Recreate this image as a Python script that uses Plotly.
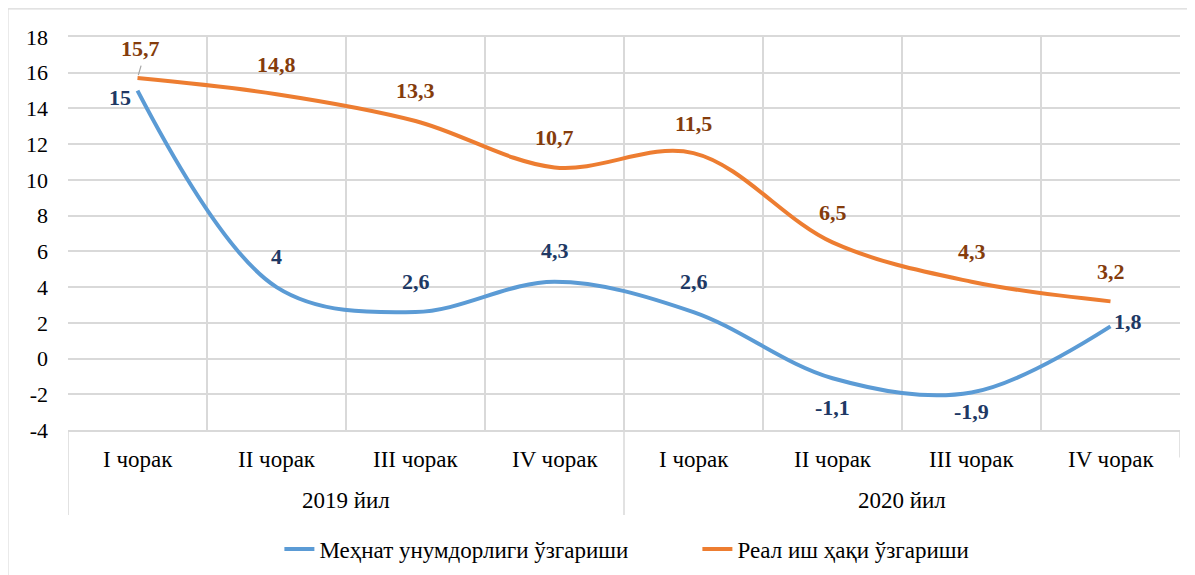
import plotly.graph_objects as go

years = ["2019 йил", "2020 йил"]
quarters = ["I чорак", "II чорак", "III чорак", "IV чорак"] * 2
productivity = [15, 4, 2.6, 4.3, 2.6, -1.1, -1.9, 1.8]
real_wage = [15.7, 14.8, 13.3, 10.7, 11.5, 6.5, 4.3, 3.2]
y_ticks = [-4, -2, 0, 2, 4, 6, 8, 10, 12, 14, 16, 18]
name_prod = "Меҳнат унумдорлиги ўзгариши"
name_wage = "Реал иш ҳақи ўзгариши"

FONT = "Liberation Serif"
BLUE = "#5B9BD5"
ORANGE = "#ED7D31"
BLUE_TXT = "#203864"
ORANGE_TXT = "#843C0C"
GRID = "#D9D9D9"

xs = list(range(len(quarters)))
n_per_year = len(quarters) // len(years)

def fmt(v):
    return ("%g" % v).replace(".", ",")

fig = go.Figure()
fig.add_trace(go.Scatter(x=xs, y=productivity, mode="lines", name=name_prod,
                         line=dict(color=BLUE, width=4, shape="spline", smoothing=1.0)))
fig.add_trace(go.Scatter(x=xs, y=real_wage, mode="lines", name=name_wage,
                         line=dict(color=ORANGE, width=4, shape="spline", smoothing=1.0)))

ann = []
prod_pos = ["left", "up", "up", "up", "up", "down", "down2", "right"]
for i, (v, p) in enumerate(zip(productivity, prod_pos)):
    a = dict(x=xs[i], y=v, xref="x", yref="y", text="<b>%s</b>" % fmt(v), showarrow=False,
             font=dict(family=FONT, size=22, color=BLUE_TXT))
    if p == "left":
        a.update(xanchor="right", xshift=-5, yshift=-7)
    elif p == "right":
        a.update(xanchor="left", xshift=1, yshift=5)
    elif p == "up":
        a.update(yshift=31)
    elif p == "down":
        a.update(yshift=-29)
    else:
        a.update(yshift=-19)
    ann.append(a)
for i, v in enumerate(real_wage):
    a = dict(x=xs[i], y=v, xref="x", yref="y", text="<b>%s</b>" % fmt(v), showarrow=False,
             yshift=30, font=dict(family=FONT, size=22, color=ORANGE_TXT))
    if i == 0:
        a.update(xshift=3)
    ann.append(a)
ann.append(dict(x=xs[0], y=real_wage[0], xref="x", yref="y", ax=4, ay=-14, text="",
                showarrow=True, arrowhead=0, arrowwidth=1.2, arrowcolor="#A6A6A6", standoff=3))
for i, q in enumerate(quarters):
    ann.append(dict(x=xs[i], y=0, xref="x", yref="paper", yshift=-29, text=q, showarrow=False,
                    yanchor="middle", font=dict(family=FONT, size=23, color="#000000")))
for k, yname in enumerate(years):
    center = (xs[k * n_per_year] + xs[(k + 1) * n_per_year - 1]) / 2
    ann.append(dict(x=center, y=0, xref="x", yref="paper", yshift=-70, text=yname, showarrow=False,
                    yanchor="middle", font=dict(family=FONT, size=23, color="#000000")))

shapes = [dict(type="rect", xref="paper", yref="paper", x0=-0.054, x1=1.05, y0=-0.5, y1=1.0715,
               line=dict(color=GRID, width=1.2), fillcolor="rgba(0,0,0,0)", layer="below")]
bounds = [xs[0] - 0.5] + [xs[(k + 1) * n_per_year - 1] + 0.5 for k in range(len(years))]
for j, b in enumerate(bounds):
    shapes.append(dict(type="line", xref="x", yref="paper", x0=b, x1=b, y0=0,
                       y1=-0.07 if j == len(bounds) - 1 else -0.216,
                       line=dict(color=GRID, width=1.5), layer="below"))

fig.update_layout(
    width=1187, height=567,
    margin=dict(l=60, r=15, t=29, b=145, autoexpand=False),
    paper_bgcolor="white", plot_bgcolor="white",
    font=dict(family=FONT, size=20, color="#000000"),
    showlegend=True,
    legend=dict(orientation="h", x=0.566, xanchor="center", y=-0.303, yanchor="middle",
                font=dict(family=FONT, size=23, color="#000000"), traceorder="normal",
                entrywidth=373, entrywidthmode="pixels"),
    annotations=ann,
    shapes=shapes,
)
fig.update_xaxes(range=[xs[0] - 0.5, xs[-1] + 0.5], tickvals=[x + 0.5 for x in [xs[0] - 1] + xs],
                 ticktext=[""] * (len(xs) + 1), showgrid=True, gridcolor=GRID, gridwidth=1.5,
                 showline=True, linecolor=GRID, linewidth=1.5, mirror=True, ticks="",
                 zeroline=False, fixedrange=True)
fig.update_yaxes(range=[y_ticks[0], y_ticks[-1]], tickvals=y_ticks, ticktext=[str(t) for t in y_ticks],
                 showgrid=True, gridcolor=GRID, gridwidth=1.5,
                 zeroline=False, showline=False, ticks="", ticklabelstandoff=19,
                 tickfont=dict(family=FONT, size=22, color="#000000"))

fig.write_html("out.html")
